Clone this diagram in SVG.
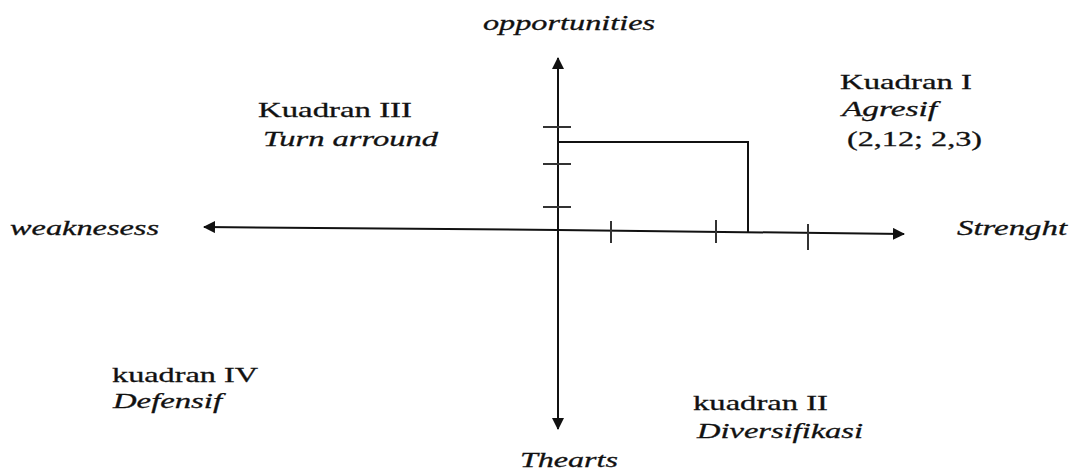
<svg xmlns="http://www.w3.org/2000/svg" width="1069" height="470" viewBox="0 0 1069 470">
<defs>
<style>
text{font-family:'Liberation Serif','Times New Roman',serif;font-size:22px;fill:#111;stroke:#111;stroke-width:0.3}
.i{font-style:italic}
.ax{stroke:#111;stroke-width:2;fill:none}
.tk{stroke:#333;stroke-width:2;fill:none}
</style>
<marker id="ah" viewBox="0 0 12 12" refX="11" refY="6" markerWidth="6" markerHeight="6" orient="auto" markerUnits="strokeWidth">
<path d="M0,0 L12,6 L0,12 z" fill="#111"/>
</marker>
</defs>
<rect width="1069" height="470" fill="#fff"/>
<g id="connectors">
<line class="ax" x1="558" y1="232" x2="558" y2="58" marker-end="url(#ah)"/>
<line class="ax" x1="558" y1="232" x2="558" y2="429" marker-end="url(#ah)"/>
<line class="ax" x1="558" y1="230" x2="204" y2="227" marker-end="url(#ah)"/>
<line class="ax" x1="558" y1="230" x2="904" y2="234" marker-end="url(#ah)"/>
<path class="ax" d="M558,142 H748 V233"/>
<line class="tk" x1="543" y1="127" x2="571" y2="127"/>
<line class="tk" x1="543" y1="164" x2="571" y2="164"/>
<line class="tk" x1="543" y1="207" x2="571" y2="207"/>
<line class="tk" x1="611" y1="221" x2="611" y2="243"/>
<line class="tk" x1="716" y1="220" x2="716" y2="243"/>
<line class="tk" x1="808" y1="224" x2="808" y2="250"/>
</g>
<g id="axis-labels">
<text class="i" x="483" y="30" textLength="172" lengthAdjust="spacingAndGlyphs">opportunities</text>
<text class="i" x="520" y="467" textLength="98" lengthAdjust="spacingAndGlyphs">Thearts</text>
<text class="i" x="10" y="235" textLength="149" lengthAdjust="spacingAndGlyphs">weaknesess</text>
<text class="i" x="957" y="235" textLength="110" lengthAdjust="spacingAndGlyphs">Strenght</text>
</g>
<g id="kuadran-1">
<text x="840" y="89" textLength="132" lengthAdjust="spacingAndGlyphs">Kuadran I</text>
<text class="i" x="842" y="116" textLength="95" lengthAdjust="spacingAndGlyphs">Agresif</text>
<text x="847" y="146" textLength="135" lengthAdjust="spacingAndGlyphs">(2,12; 2,3)</text>
</g>
<g id="kuadran-3">
<text x="258" y="117" textLength="154" lengthAdjust="spacingAndGlyphs">Kuadran III</text>
<text class="i" x="263" y="146" textLength="175" lengthAdjust="spacingAndGlyphs">Turn arround</text>
</g>
<g id="kuadran-4">
<text x="112" y="382" textLength="146" lengthAdjust="spacingAndGlyphs">kuadran IV</text>
<text class="i" x="113" y="408" textLength="109" lengthAdjust="spacingAndGlyphs">Defensif</text>
</g>
<g id="kuadran-2">
<text x="693" y="410" textLength="135" lengthAdjust="spacingAndGlyphs">kuadran II</text>
<text class="i" x="697" y="438" textLength="166" lengthAdjust="spacingAndGlyphs">Diversifikasi</text>
</g>
</svg>
